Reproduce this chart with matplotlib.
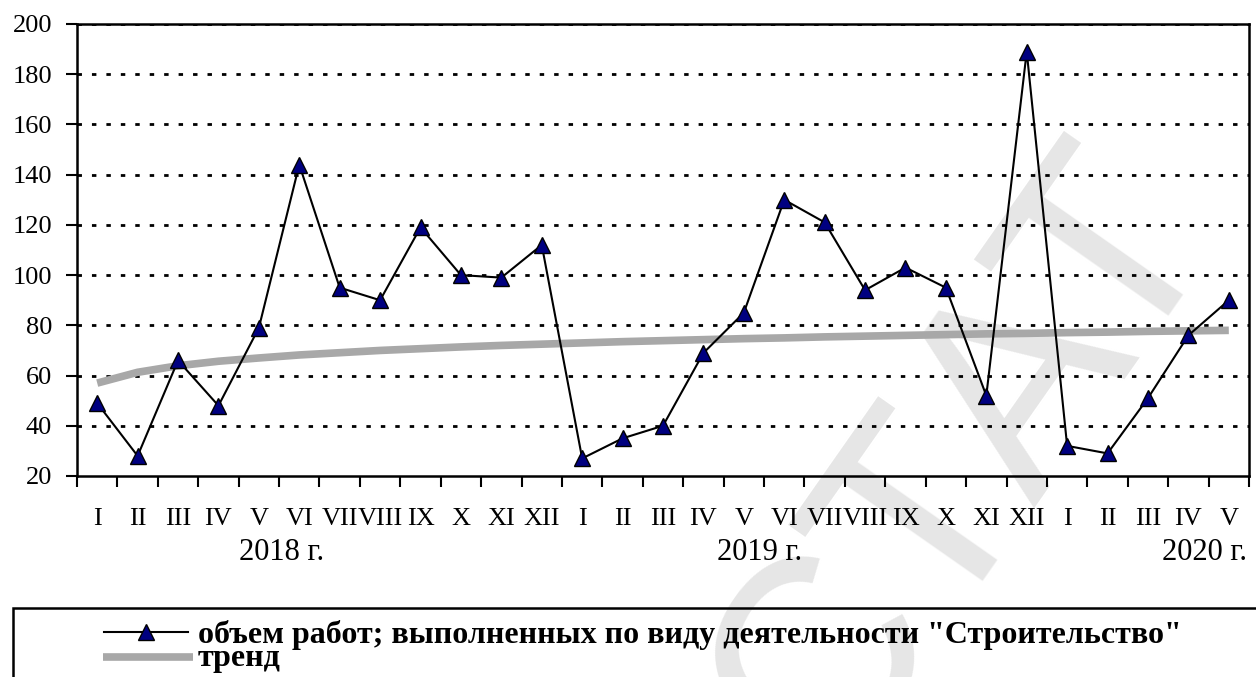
import numpy as np
from matplotlib import pyplot as plt
from matplotlib.lines import Line2D
from matplotlib.patches import Rectangle
import matplotlib

matplotlib.rcParams['font.family'] = ['Liberation Serif', 'DejaVu Serif']

#%% Data
months = ['I', 'II', 'III', 'IV', 'V', 'VI', 'VII', 'VIII', 'IX', 'X', 'XI', 'XII',
          'I', 'II', 'III', 'IV', 'V', 'VI', 'VII', 'VIII', 'IX', 'X', 'XI', 'XII',
          'I', 'II', 'III', 'IV', 'V']
volume = [49, 28, 66, 48, 79, 144, 95, 90, 119, 100, 99, 112,
          27, 35, 40, 69, 85, 130, 121, 94, 103, 95, 52, 189,
          32, 29, 51, 76, 90]
trend = [57, 61.3, 63.9, 65.7, 67, 68.2, 69.1, 70, 70.7, 71.4, 72, 72.5,
         73, 73.5, 73.9, 74.3, 74.7, 75, 75.4, 75.7, 76, 76.3, 76.6, 76.8,
         77.1, 77.3, 77.6, 77.8, 78]
years = ['2018 г.', '2019 г.', '2020 г.']
year_pos = [4.55, 16.4, 27.4]
yticks = [20, 40, 60, 80, 100, 120, 140, 160, 180, 200]
label_series = 'объем работ; выполненных по виду деятельности "Строительство"'
label_trend = 'тренд'

#%% Figure
W, H = 1256, 677
fig = plt.figure(figsize=(W/100, H/100), dpi=100)
ax = fig.add_axes([77/W, 1-476/H, (1249-77)/W, (476-24)/H])
ax.patch.set_alpha(0)

# watermark
fig.text(790/W, 1-700/H, 'РОССТАТ', family='Liberation Sans', fontsize=200,
         color='#e6e6e6', rotation=55, ha='center', va='center',
         rotation_mode='anchor', zorder=-1)

x = np.arange(len(volume))
ax.plot(x, trend, color='#a8a8a8', lw=5.5, solid_capstyle='butt', zorder=3)
ax.plot(x, volume, color='k', lw=1.5, marker='^', markersize=12,
        markerfacecolor='#000080', markeredgecolor='k', markeredgewidth=1, zorder=4)

ax.set_xlim(-0.5, len(volume)-0.5)
ax.set_ylim(20, 200)
ax.set_yticks(yticks)
for v in yticks[1:]:
    ax.axhline(v, color='k', lw=2.0, ls=(0, (1.6, 3.6)), zorder=2)

ax.set_xticks(x)
ax.set_xticklabels(months, fontsize=19)
ax.set_xticks(np.arange(len(volume)+1)-0.5, minor=True)
ax.tick_params(axis='x', which='major', length=0, pad=23)
ax.tick_params(axis='x', which='minor', length=8, width=1.5, direction='out')
ax.tick_params(axis='y', length=8, width=1.5, direction='out', pad=10, labelsize=19)
for s in ax.spines.values():
    s.set_linewidth(1.8)

for yr, xp in zip(years, year_pos):
    ax.text(xp, -0.17, yr, transform=ax.get_xaxis_transform(), fontsize=22,
            ha='center', va='center')

#%% Legend
fig.add_artist(Rectangle((13/W, -0.05), 1.2, 1-608/H+0.05, transform=fig.transFigure,
                         fill=False, lw=1.8, ec='k'))
fig.add_artist(Line2D([104/W, 188/W], [1-632/H]*2, color='k', lw=1.5))
fig.add_artist(Line2D([146/W], [1-632/H], marker='^', markersize=12,
                      markerfacecolor='#000080', markeredgecolor='k', lw=0))
fig.add_artist(Line2D([103/W, 193/W], [1-657/H]*2, color='#a8a8a8', lw=5.5,
                      solid_capstyle='butt'))
fig.text(198/W, 1-666/H, label_series + '\n' + label_trend, fontsize=23,
         fontweight='bold', va='baseline', linespacing=0.74)

fig.savefig('out.png', dpi=100)
